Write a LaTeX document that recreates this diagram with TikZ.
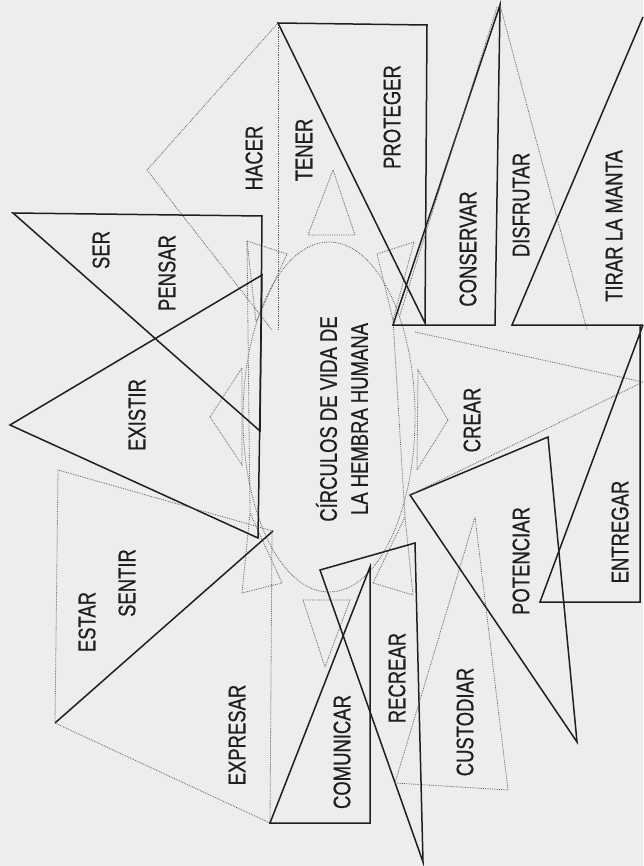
\documentclass[tikz,border=0pt]{standalone}
\usepackage{fontspec}
\newfontfamily\cond[FakeStretch=0.77,FakeBold=0.6]{Liberation Sans}
\begin{document}
\begin{tikzpicture}[x=1pt,y=-1pt,
  blk/.style={draw=black!88, line width=1.5pt, line join=miter},
  gry/.style={draw=black!62, line width=0.8pt, densely dotted},
  lbl/.style={font=\cond\fontsize{24}{31}\selectfont, rotate=90, text=black!88, inner sep=0pt, align=center}]
\fill[black!7] (0,0) rectangle (643,866);
\useasboundingbox (0,0) rectangle (643,866);

% central ellipse
\draw[gry] (329,417) ellipse [x radius=86, y radius=175];

% petal triangles round the ellipse
\draw[gry] (333,170) -- (308,235) -- (355,235) -- cycle;
\draw[gry] (210,417) -- (242,368) -- (242,465) -- cycle;
\draw[gry] (448,420) -- (418,370) -- (417,470) -- cycle;
\draw[gry] (303,600) -- (350,600) -- (325,667) -- cycle;
\draw[gry] (247,241) -- (287,254) -- (256,322) -- cycle;
\draw[gry] (377,254) -- (414,242) -- (393,320) -- cycle;
\draw[gry] (242,593) -- (282,583) -- (250,513) -- cycle;
\draw[gry] (373,583) -- (413,595) -- (405,517) -- cycle;
\draw[gry] (247,241) -- (250,513);
\draw[gry] (393,320) -- (405,517);

% HACER (grey)
\draw[gry] (278,23) -- (147,170) -- (272,330);
\draw[gry] (278,23) -- (278,330);
% TENER / PROTEGER
\draw[blk] (278,23) -- (427,25) -- (425,323) -- cycle;
% SER / PENSAR
\draw[blk] (13,213) -- (262,216) -- (260,431) -- cycle;
% EXISTIR
\draw[blk] (10,425) -- (262,275) -- (258,538) -- cycle;
% ESTAR / SENTIR
\draw[gry] (273,531) -- (58,470) -- (55,723);
\draw[blk] (55,723) -- (273,531);
% EXPRESAR
\draw[gry] (55,723) -- (270,823) -- (272,531);
% COMUNICAR
\draw[blk] (270,823) -- (370,823) -- (370,567) -- cycle;
% RECREAR
\draw[blk] (320,570) -- (415,543) -- (423,862) -- cycle;
% CUSTODIAR
\draw[gry] (395,783) -- (508,790) -- (475,517) -- cycle;
% POTENCIAR
\draw[blk] (410,495) -- (548,437) -- (577,742) -- cycle;
% CREAR
\draw[gry] (415,332) -- (643,382) -- (410,495);
% ENTREGAR
\draw[blk] (643,325) -- (540,602) -- (640,602) -- (640,325);
% CONSERVAR
\draw[blk] (500,5) -- (495,325) -- (393,325) -- cycle;
\draw[gry] (497,7) -- (399,318);
% DISFRUTAR
\draw[gry] (500,5) -- (587,330);
% TIRAR LA MANTA
\draw[blk] (643,17) -- (512,325) -- (643,325);

% labels
\node[lbl] (ser) at (101,250) {SER};
\node[lbl] (pensar) at (167,273) {PENSAR};
\node[lbl] (hacer) at (254,158) {HACER};
\node[lbl] (tener) at (304,150) {TENER};
\node[lbl] (proteger) at (392,117) {PROTEGER};
\node[lbl] (conservar) at (468,249) {CONSERVAR};
\node[lbl] (disfrutar) at (521,205) {DISFRUTAR};
\node[lbl] (tirar) at (614,226) {TIRAR LA MANTA};
\node[lbl] (existir) at (137,415) {EXISTIR};
\node[lbl] (estar) at (87,622) {ESTAR};
\node[lbl] (sentir) at (127,583) {SENTIR};
\node[lbl] (expresar) at (237,735) {EXPRESAR};
\node[lbl] (comunicar) at (342,752) {COMUNICAR};
\node[lbl] (recrear) at (397,678) {RECREAR};
\node[lbl] (custodiar) at (465,722) {CUSTODIAR};
\node[lbl] (potenciar) at (521,561) {POTENCIAR};
\node[lbl] (entregar) at (620,532) {ENTREGAR};
\node[lbl] (crear) at (472,420) {CREAR};
\node[lbl] (centro) at (342,419) {CÍRCULOS DE VIDA DE\\LA HEMBRA HUMANA};
\end{tikzpicture}
\end{document}
